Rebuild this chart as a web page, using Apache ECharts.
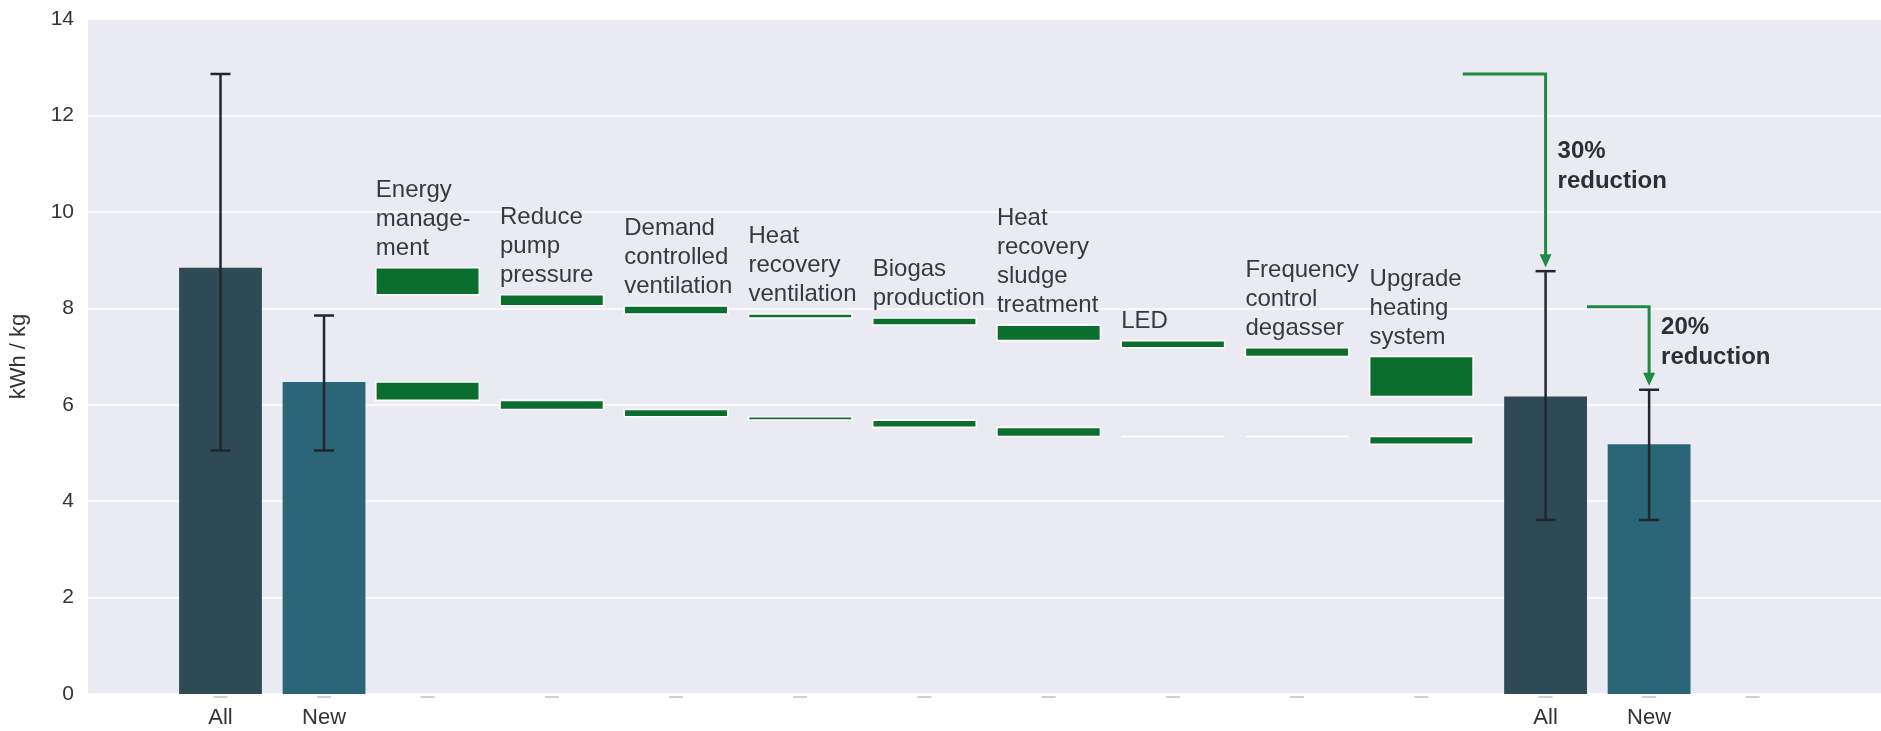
<!DOCTYPE html>
<html><head><meta charset="utf-8">
<script src="https://cdn.jsdelivr.net/npm/echarts@6/dist/echarts.min.js"></script>
<style>html,body{margin:0;padding:0;background:#fff}#c{width:1881px;height:731px}</style>
</head><body><div id="c"></div>
<script>
// ---------------- data ----------------
const groupLabels = ['All', 'New'];
const baselineValues = [8.84, 6.47];
const baselineErrLow = [5.05, 5.05];
const baselineErrHigh = [12.86, 7.85];
const finalValues = [6.17, 5.18];
const finalErrLow = [3.61, 3.61];
const finalErrHigh = [8.77, 6.31];
const measureLabels = ['Energy\nmanage-\nment', 'Reduce\npump\npressure', 'Demand\ncontrolled\nventilation',
  'Heat\nrecovery\nventilation', 'Biogas\nproduction', 'Heat\nrecovery\nsludge\ntreatment', 'LED',
  'Frequency\ncontrol\ndegasser', 'Upgrade\nheating\nsystem'];
const savingsAll = [0.56, 0.23, 0.17, 0.08, 0.15, 0.32, 0.15, 0.18, 0.83];
const savingsNew = [0.38, 0.19, 0.15, 0.07, 0.15, 0.19, 0, 0, 0.16];
const reductionLabels = ['30%\nreduction', '20%\nreduction'];
const arrowStartValues = [12.86, 8.03];
// x positions of each slot on the (value) x axis
const baselineX = [0, 5];
const measureX = [10, 16, 22, 28, 34, 40, 46, 52, 58];
const finalX = [64, 69];
const emptyX = [74];
const arrowStartX = [60, 66];

// ---------------- styling ----------------
const FONT = "'Liberation Sans', Arial, sans-serif";
const barColors = ['#2e4a55', '#2a6578'];
const green = '#0b6e2f';
const arrowGreen = '#1f8a45';
const errColor = '#22262e';

// ---------------- derived series data ----------------
const barData = [];
for (let i = 0; i < 2; i++) {
  barData.push([baselineX[i], baselineValues[i], baselineErrLow[i], baselineErrHigh[i], i]);
  barData.push([finalX[i], finalValues[i], finalErrLow[i], finalErrHigh[i], i]);
}
const stepData = [];
let curAll = baselineValues[0], curNew = baselineValues[1];
measureX.forEach((x, j) => {
  stepData.push([x, curAll, curAll - savingsAll[j], 1, j]);
  stepData.push([x, curNew, curNew - savingsNew[j], 0, j]);
  curAll -= savingsAll[j];
  curNew -= savingsNew[j];
});
const arrowData = arrowStartX.map((x, i) => [x, arrowStartValues[i], finalX[i], finalErrHigh[i], i]);
const allSlots = baselineX.concat(measureX, finalX, emptyX).map(x => [x]);
const labelMap = {};
baselineX.forEach((x, i) => labelMap[x] = groupLabels[i]);
finalX.forEach((x, i) => labelMap[x] = groupLabels[i]);

function renderBar(params, api) {
  const x = api.value(0), v = api.value(1), lo = api.value(2), hi = api.value(3), k = api.value(4);
  const p0 = api.coord([x - 2, 0]), p1 = api.coord([x + 2, v]);
  const pl = api.coord([x, lo]), ph = api.coord([x, hi]);
  const cw = 10;
  return { type: 'group', children: [
    { type: 'rect', shape: { x: p0[0], y: p1[1], width: p1[0] - p0[0], height: p0[1] - p1[1] },
      style: { fill: barColors[k] } },
    { type: 'line', shape: { x1: pl[0], y1: pl[1], x2: ph[0], y2: ph[1] }, style: { stroke: errColor, lineWidth: 2.5 } },
    { type: 'line', shape: { x1: pl[0] - cw, y1: pl[1], x2: pl[0] + cw, y2: pl[1] }, style: { stroke: errColor, lineWidth: 2.5 } },
    { type: 'line', shape: { x1: ph[0] - cw, y1: ph[1], x2: ph[0] + cw, y2: ph[1] }, style: { stroke: errColor, lineWidth: 2.5 } }
  ]};
}

function renderStep(params, api) {
  const x = api.value(0), top = api.value(1), bot = api.value(2), isUpper = api.value(3), j = api.value(4);
  const a = api.coord([x - 2.5, top]), b = api.coord([x + 2.5, bot]);
  const children = [
    { type: 'rect', shape: { x: a[0], y: a[1], width: b[0] - a[0], height: b[1] - a[1] },
      style: { fill: green, stroke: '#ffffff', lineWidth: 1.6 } }
  ];
  if (isUpper) {
    children.push({ type: 'text', style: {
      text: measureLabels[j], x: a[0], y: a[1] - 5, align: 'left', verticalAlign: 'bottom',
      fontSize: 24, lineHeight: 29, fontFamily: FONT, fill: '#38383f' } });
  }
  return { type: 'group', children };
}

function renderArrow(params, api) {
  const xs = api.value(0), ys = api.value(1), xe = api.value(2), ye = api.value(3), i = api.value(4);
  const s = api.coord([xs, ys]), e = api.coord([xe, ye]);
  const tipY = e[1] - 4, head = 13, hw = 6;
  const midY = (s[1] + tipY) / 2 - 4;
  return { type: 'group', children: [
    { type: 'polyline', shape: { points: [[s[0], s[1]], [e[0], s[1]], [e[0], tipY - head + 1]] },
      style: { stroke: arrowGreen, lineWidth: 3, fill: null } },
    { type: 'polygon', shape: { points: [[e[0] - hw, tipY - head], [e[0] + hw, tipY - head], [e[0], tipY]] },
      style: { fill: arrowGreen } },
    { type: 'text', style: { text: reductionLabels[i], x: e[0] + 12, y: midY, align: 'left', verticalAlign: 'middle',
      fontSize: 24, lineHeight: 30, fontWeight: 'bold', fontFamily: FONT, fill: '#2e2e36' } }
  ]};
}

function renderDash(params, api) {
  const p = api.coord([api.value(0), 0]);
  return { type: 'line', shape: { x1: p[0] - 7, y1: p[1] + 3, x2: p[0] + 7, y2: p[1] + 3 },
    style: { stroke: '#cfcfd6', lineWidth: 2 } };
}

const chart = echarts.init(document.getElementById('c'), null, { renderer: 'canvas' });
chart.setOption({
  animation: false,
  backgroundColor: '#ffffff',
  grid: { left: 87, right: 0, top: 19, bottom: 37, show: true, backgroundColor: '#EAEAF2', borderWidth: 0 },
  xAxis: {
    type: 'value', min: -6.4, max: 80.2,
    splitLine: { show: false }, axisLine: { show: false }, axisTick: { show: false },
    axisLabel: { customValues: baselineX.concat(finalX), formatter: v => labelMap[v] || '',
      fontSize: 22, color: '#333', fontFamily: FONT, margin: 13 }
  },
  yAxis: {
    type: 'value', min: 0, max: 14, interval: 2,
    name: 'kWh / kg', nameLocation: 'middle', nameGap: 58,
    nameTextStyle: { fontSize: 22, color: '#333', fontFamily: FONT },
    splitLine: { lineStyle: { color: '#ffffff', width: 1.5 } },
    axisLine: { show: false }, axisTick: { show: false },
    axisLabel: { fontSize: 21, color: '#333', fontFamily: FONT, margin: 14 }
  },
  series: [
    { type: 'custom', renderItem: renderDash, data: allSlots, clip: false, z: 1 },
    { type: 'custom', renderItem: renderBar, data: barData, z: 2 },
    { type: 'custom', renderItem: renderStep, data: stepData, z: 3 },
    { type: 'custom', renderItem: renderArrow, data: arrowData, z: 4 }
  ]
});
</script></body></html>
